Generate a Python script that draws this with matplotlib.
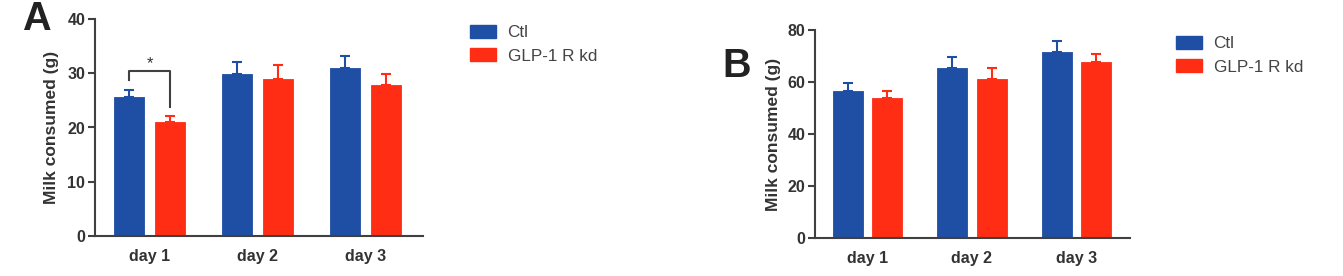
import matplotlib.pyplot as plt
import numpy as np

plt.rcParams['font.family'] = ['Liberation Sans', 'DejaVu Sans']

days = ['day 1', 'day 2', 'day 3']
groups = ['Ctl', 'GLP-1 R kd']

# panel A: milk consumed (g), mean and upper SEM
a_ctl = [25.7, 29.9, 30.9]
a_ctl_err = [1.2, 2.1, 2.3]
a_kd = [21.0, 29.0, 27.9]
a_kd_err = [1.1, 2.6, 1.9]

# panel B
b_ctl = [56.5, 65.3, 71.5]
b_ctl_err = [3.3, 4.3, 4.3]
b_kd = [53.7, 61.0, 67.8]
b_kd_err = [2.7, 4.3, 3.1]

BLUE = '#1f4ea5'
RED = '#ff2d14'
AX = '#404040'
TXT = '#333333'


def bar_panel(ax, ctl, ctl_err, kd, kd_err, ymax, step, off, width):
    x = np.arange(len(days))
    for xs, vals, errs, col in [(x - off, ctl, ctl_err, BLUE), (x + off, kd, kd_err, RED)]:
        ax.bar(xs, vals, width, color=col, edgecolor=col, linewidth=0.6, zorder=2)
        ax.errorbar(xs, vals, yerr=[np.zeros(len(vals)), errs], fmt='none',
                    ecolor=col, elinewidth=1.5, capsize=3.6, capthick=1.5, zorder=1)
    ax.set_ylim(0, ymax)
    ax.set_yticks(np.arange(0, ymax + 1, step))
    ax.set_xticks(x)
    ax.set_xticklabels(days, fontsize=11.5, fontweight='bold', color=TXT)
    ax.tick_params(axis='x', length=0, pad=9)
    ax.tick_params(axis='y', length=5, width=1.5, color=AX, labelsize=11.5, labelcolor=TXT, pad=2)
    for lab in ax.get_yticklabels():
        lab.set_fontweight('bold')
    for s in ['top', 'right']:
        ax.spines[s].set_visible(False)
    for s in ['left', 'bottom']:
        ax.spines[s].set_linewidth(1.5)
        ax.spines[s].set_color(AX)
    ax.set_ylabel('Milk consumed (g)', fontsize=12.5, fontweight='bold', color=TXT)
    return x


fig = plt.figure(figsize=(13.43, 2.76), dpi=100)
W, H = 1343, 276

axA = fig.add_axes([95 / W, 40 / H, 328 / W, 217 / H])
xA = bar_panel(axA, a_ctl, a_ctl_err, a_kd, a_kd_err, 40, 10, 0.19, 0.278)
axA.set_xlim(-0.505, 2.53)
axA.yaxis.set_label_coords(-0.11, 0.5)

# significance bracket day 1
x0, x1 = xA[0] - 0.19, xA[0] + 0.19
axA.plot([x0, x0, x1, x1], [28.8, 30.5, 30.5, 23.8], color=AX, lw=1.5, zorder=3)
axA.text((x0 + x1) / 2, 30.4, '*', ha='center', va='bottom', fontsize=12, color=TXT)

axB = fig.add_axes([815 / W, 38 / H, 315 / W, 208 / H])
bar_panel(axB, b_ctl, b_ctl_err, b_kd, b_kd_err, 80, 20, 0.187, 0.287)
axB.set_xlim(-0.5, 2.51)
axB.yaxis.set_label_coords(-0.108, 0.5)

for ax, (lx, ly) in [(axA, (470, 25)), (axB, (1176, 36))]:
    handles = [plt.Rectangle((0, 0), 1, 1, color=BLUE), plt.Rectangle((0, 0), 1, 1, color=RED)]
    leg = fig.legend(handles, groups, loc='upper left', bbox_to_anchor=(lx / W, 1 - ly / H),
                     frameon=False, fontsize=12.3, handlelength=1.5, handleheight=0.8,
                     labelspacing=0.45, handletextpad=0.7, borderpad=0, borderaxespad=0)
    for t in leg.get_texts():
        t.set_color('#444444')

fig.text(22 / W, 1 - 30 / H, 'A', fontsize=28.5, fontweight='bold', color='#222222', va='baseline')
fig.text(722 / W, 1 - 77 / H, 'B', fontsize=28.5, fontweight='bold', color='#222222', va='baseline')

fig.savefig('out.png', dpi=100)
